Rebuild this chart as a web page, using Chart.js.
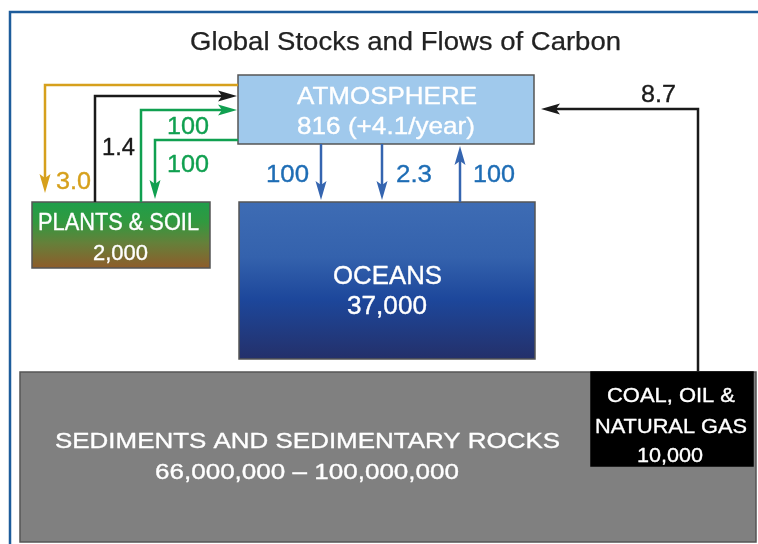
<!DOCTYPE html>
<html><head><meta charset="utf-8">
<script src="https://cdn.jsdelivr.net/npm/chart.js@4/dist/chart.umd.min.js"></script>
<style>html,body{margin:0;padding:0;background:#fff;overflow:hidden}</style>
</head><body>
<canvas id="c" width="758" height="544"></canvas>
<script>
// ---- content (data) ----
const chartTitle = 'Global Stocks and Flows of Carbon';
const stockNames = ['ATMOSPHERE', 'PLANTS & SOIL', 'OCEANS', 'SEDIMENTS AND SEDIMENTARY ROCKS', 'COAL, OIL &|NATURAL GAS'];
const stockValues = ['816 (+4.1/year)', '2,000', '37,000', '66,000,000 \u2013 100,000,000', '10,000'];
const flowValues = ['3.0', '1.4', '100', '100', '100', '2.3', '100', '8.7'];

// ---- layout (diagram units, mapped through the chart scales) ----
const boxLayout = [
  {x0: 238, y0: 75, x1: 534, y1: 144, fill: 'atm', lines: [[297, 477, 104, 24], [297, 475, 134, 24]]},
  {x0: 32, y0: 202, x1: 210, y1: 268, fill: 'plants', lines: [[38, 199, 230, 23.5], [93, 148, 260, 22.5]]},
  {x0: 239, y0: 202, x1: 535, y1: 359, fill: 'ocean', lines: [[333, 442, 284, 25.5], [347, 427, 314, 25]]},
  {x0: 20, y0: 372, x1: 756, y1: 542, fill: 'sed', lines: [[55, 560, 448, 22.5], [155, 459, 479, 22.5]]},
  {x0: 591, y0: 372, x1: 753, y1: 466, fill: 'coal', lines: [[607, 735, 402, 20.5], [595, 747, 433, 21], [637, 703, 462, 21]]}
];
const flowLayout = [
  {path: [[238, 85], [45, 85], [45, 193]], color: '#d6a01c', label: [56, 91, 189]},
  {path: [[95, 202], [95, 96], [237, 96]], color: '#1a1a1a', label: [102, 135, 155]},
  {path: [[141, 202], [141, 110], [237, 110]], color: '#10a050', label: [167, 209, 134]},
  {path: [[238, 140], [155, 140], [155, 199]], color: '#10a050', label: [167, 209, 172]},
  {path: [[321, 144], [321, 200]], color: '#3565b0', label: [266, 309, 182], lc: '#1e6db5'},
  {path: [[382, 144], [382, 200]], color: '#3565b0', label: [396, 432, 182], lc: '#1e6db5'},
  {path: [[460, 202], [460, 146]], color: '#3565b0', label: [473, 515, 182], lc: '#1e6db5'},
  {path: [[698, 372], [698, 109], [541, 109]], color: '#1a1a1a', label: [641, 676, 102]}
];
const FONT = '"Liberation Sans", Arial, Helvetica, sans-serif';

const diagramPlugin = {
  id: 'carbonDiagram',
  afterDraw(chart) {
    const ctx = chart.ctx;
    const X = v => chart.scales.x.getPixelForValue(v);
    const Y = v => chart.scales.y.getPixelForValue(v);

    function fitText(str, l, r, base, size, color, bold) {
      ctx.save();
      ctx.font = size + 'px ' + FONT;
      ctx.fillStyle = color;
      ctx.strokeStyle = color;
      ctx.lineWidth = bold === undefined ? 0.35 : bold;
      ctx.lineJoin = 'round';
      ctx.textAlign = 'center';
      ctx.textBaseline = 'alphabetic';
      const w = ctx.measureText(str).width;
      const target = X(r) - X(l);
      ctx.translate((X(l) + X(r)) / 2, Y(base));
      ctx.scale(target / w, 1);
      ctx.fillText(str, 0, 0);
      if (ctx.lineWidth > 0) ctx.strokeText(str, 0, 0);
      ctx.restore();
    }

    // frame
    ctx.save();
    ctx.strokeStyle = '#1d5c9b';
    ctx.lineWidth = 2.5;
    ctx.strokeRect(X(10), Y(12), X(800) - X(10), Y(600) - Y(12));
    ctx.restore();

    fitText(chartTitle, 190, 621, 50, 25, '#222', 0.25);

    // boxes: draw bottom layers first
    const order = [3, 4, 2, 0, 1];
    order.forEach(i => {
      const b = boxLayout[i];
      const x0 = X(b.x0), y0 = Y(b.y0), x1 = X(b.x1), y1 = Y(b.y1);
      let fill;
      if (b.fill === 'atm') fill = '#a0c9ec';
      else if (b.fill === 'sed') fill = '#808080';
      else if (b.fill === 'coal') fill = '#000000';
      else if (b.fill === 'plants') {
        fill = ctx.createLinearGradient(0, y0, 0, y1);
        fill.addColorStop(0, '#1f9e4b');
        fill.addColorStop(0.3, '#31993f');
        fill.addColorStop(0.62, '#65803a');
        fill.addColorStop(1, '#8e5c2a');
      } else {
        fill = ctx.createLinearGradient(0, y0, 0, y1);
        fill.addColorStop(0, '#3e6cb4');
        fill.addColorStop(0.35, '#3462ad');
        fill.addColorStop(0.62, '#1d479b');
        fill.addColorStop(1, '#24306a');
      }
      ctx.save();
      ctx.fillStyle = fill;
      ctx.fillRect(x0, y0, x1 - x0, y1 - y0);
      ctx.strokeStyle = b.fill === 'coal' ? '#000' : '#555';
      ctx.lineWidth = 1.5;
      ctx.strokeRect(x0, y0, x1 - x0, y1 - y0);
      ctx.restore();
      const nameLines = stockNames[i].split('|');
      const texts = nameLines.concat([stockValues[i]]);
      texts.forEach((t, k) => {
        const ln = b.lines[k];
        fitText(t, ln[0], ln[1], ln[2], ln[3], '#ffffff');
      });
    });

    // flows
    flowLayout.forEach((f, i) => {
      const pts = f.path.map(p => [X(p[0]), Y(p[1])]);
      const n = pts.length;
      const tip = pts[n - 1], prev = pts[n - 2];
      const dx = tip[0] - prev[0], dy = tip[1] - prev[1];
      const len = Math.hypot(dx, dy), ux = dx / len, uy = dy / len;
      const headLen = 19, halfW = 5.5, notch = 4;
      ctx.save();
      ctx.strokeStyle = f.color;
      ctx.fillStyle = f.color;
      ctx.lineWidth = 2.5;
      ctx.lineJoin = 'miter';
      ctx.beginPath();
      ctx.moveTo(pts[0][0], pts[0][1]);
      for (let k = 1; k < n - 1; k++) ctx.lineTo(pts[k][0], pts[k][1]);
      ctx.lineTo(tip[0] - ux * (headLen - notch), tip[1] - uy * (headLen - notch));
      ctx.stroke();
      const bx = tip[0] - ux * headLen, by = tip[1] - uy * headLen;
      ctx.beginPath();
      ctx.moveTo(tip[0], tip[1]);
      ctx.lineTo(bx - uy * halfW, by + ux * halfW);
      ctx.lineTo(tip[0] - ux * (headLen - notch), tip[1] - uy * (headLen - notch));
      ctx.lineTo(bx + uy * halfW, by - ux * halfW);
      ctx.closePath();
      ctx.fill();
      ctx.restore();
      fitText(flowValues[i], f.label[0], f.label[1], f.label[2], 24, f.lc || f.color, 0.35);
    });
  }
};

new Chart(document.getElementById('c'), {
  type: 'scatter',
  data: {datasets: [{data: [], pointRadius: 0}]},
  options: {
    responsive: false,
    animation: false,
    layout: {padding: 0},
    plugins: {legend: {display: false}, tooltip: {enabled: false}, title: {display: false}},
    scales: {
      x: {type: 'linear', min: 0, max: 758, display: false},
      y: {type: 'linear', min: 0, max: 544, reverse: true, display: false}
    }
  },
  plugins: [diagramPlugin]
});
</script>
</body></html>
